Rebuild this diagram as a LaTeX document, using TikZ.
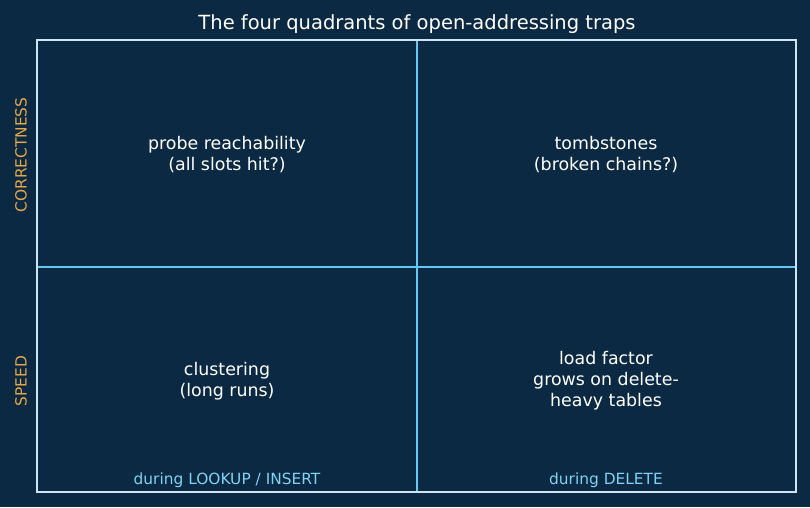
\documentclass[tikz,border=0pt]{standalone}
\usepackage{fontspec}
\setmainfont{DejaVu Sans}
\usetikzlibrary{positioning}
\definecolor{bgcol}{RGB}{11,41,66}
\definecolor{framecol}{RGB}{205,228,242}
\definecolor{splitcol}{RGB}{100,200,242}
\definecolor{axiscol}{RGB}{226,168,72}
\definecolor{notecol}{RGB}{128,210,242}

\begin{document}
\begin{tikzpicture}[x=1pt,y=-1pt,
  cell/.style={text=white,align=center,font=\fontsize{17.4}{21}\selectfont},
  axislab/.style={text=axiscol,rotate=90,font=\fontsize{15.4}{18}\selectfont},
  note/.style={text=notecol,anchor=base,font=\fontsize{15.4}{18}\selectfont}]
  \fill[bgcol] (0,0) rectangle (810,507);
  \useasboundingbox (0,0) rectangle (810,507);
  % frame corners and split points
  \coordinate (nw) at (37,40);
  \coordinate (se) at (796,492);
  \coordinate (mtop) at (417,40);
  \coordinate (mbot) at (417,492);
  \coordinate (mleft) at (37,267);
  \coordinate (mright) at (796,267);
  \node[text=white,anchor=base,font=\fontsize{19.5}{22}\selectfont] (title) at (417,29)
     {The four quadrants of open-addressing traps};
  % the two dividers, then the frame over them
  \draw[splitcol,line width=2pt] (mtop) -- (mbot);
  \draw[splitcol,line width=2pt] (mleft) -- (mright);
  \draw[framecol,line width=1.8pt] (nw) rectangle (se);
  % quadrants
  \node[cell] (qtl) at (227,154.5) {probe reachability\\(all slots hit?)};
  \node[cell] (qtr) at (606,154.5) {tombstones\\(broken chains?)};
  \node[cell] (qbl) at (227,381.5) {clustering\\(long runs)};
  \node[cell] (qbr) at (606,380.5) {load factor\\grows on delete-\\heavy tables};
  % row and column labels
  \node[axislab] (correct) at (21,155) {CORRECTNESS};
  \node[axislab] (speed) at (21,381) {SPEED};
  \node[note] (lookup) at (227,484) {during LOOKUP / INSERT};
  \node[note] (delete) at (606,484) {during DELETE};
\end{tikzpicture}
\end{document}
